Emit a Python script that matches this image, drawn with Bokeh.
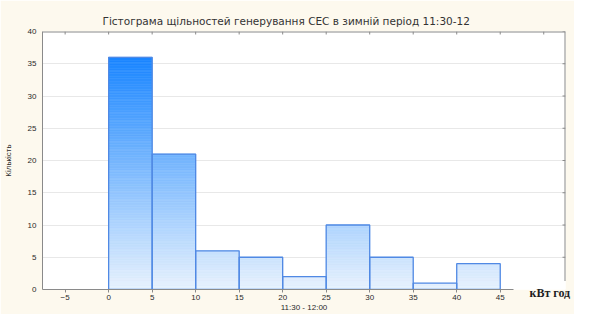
from bokeh.plotting import figure
from bokeh.models import FixedTicker, Range1d, LinearAxis
from bokeh.embed import file_html
from bokeh.resources import INLINE

# data
bin_left = [0, 5, 10, 15, 20, 25, 30, 35, 40]
bin_right = [5, 10, 15, 20, 25, 30, 35, 40, 45]
counts = [36, 21, 6, 5, 2, 10, 5, 1, 4]
x_ticks = [-5, 0, 5, 10, 15, 20, 25, 30, 35, 40, 45]
top_ticks = [-5, 0, 5, 10, 15, 20, 25, 30, 35, 40, 45, 50]
y_ticks = [0, 5, 10, 15, 20, 25, 30, 35, 40]
title_text = "Гістограма щільностей генерування СЕС в зимній період 11:30-12"
x_label = "11:30 - 12:00"
y_label = "Кількість"
unit_label = "кВт год"

X0, X1 = -7.6, 52.5
Y0, Y1 = 0, 40
AXIS_END = 46.5      # bottom axis line stops under the unit label
FRAME_CUT = 1.3      # right frame line stops above the unit label
UNIT_X = 50.7        # where the unit label is centred

BEIGE = "#FDF9EE"
FONT = "Liberation Sans"
TXT = "#2a2a2a"
FRAME = "#8a8a8a"

W, H = 574, 314
ML, MR, MT, MB = 42, 9, 31, 24
px_x = (W - ML - MR) / (X1 - X0)
px_y = (H - MT - MB) / (Y1 - Y0)

p = figure(width=W, height=H, output_backend="svg", toolbar_location=None,
           x_range=Range1d(X0, X1), y_range=Range1d(Y0, Y1),
           min_border_left=ML, min_border_right=MR, min_border_top=MT, min_border_bottom=MB)
p.border_fill_color = BEIGE
p.background_fill_color = "white"
p.outline_line_color = None

p.title.text = title_text
p.title.align = "left"
p.title.text_font = "DejaVu Sans"
p.title.text_font_size = "10.5px"
p.title.text_font_style = "normal"
p.title.text_color = "#333333"
p.title.standoff = 9
p.title.offset = 60

p.xgrid.grid_line_color = None
p.ygrid.grid_line_color = "#e8e8e8"
p.ygrid.ticker = FixedTicker(ticks=y_ticks)

# gradient slices
top_col = (26, 134, 255)
bot_col = (232, 242, 253)
ymax = max(counts)
step = 0.25
L, R, B, T, C = [], [], [], [], []
for l, r, h in zip(bin_left, bin_right, counts):
    y = 0.0
    while y < h - 1e-9:
        yt = min(h, y + step)
        t = ((y + yt) / 2) / ymax
        col = tuple(int(round(bc + (tc - bc) * t)) for tc, bc in zip(top_col, bot_col))
        L.append(l); R.append(r); B.append(y); T.append(yt)
        C.append("#%02x%02x%02x" % col)
        y = yt
p.quad(left=L, right=R, bottom=B, top=T, fill_color=C, line_color=C, line_width=0.6)
p.quad(left=bin_left, right=bin_right, bottom=0, top=counts, fill_alpha=0,
       line_color="#5089e4", line_width=1.3)

# top and right frame lines with inward ticks
p.segment(x0=[X0], y0=[Y1], x1=[X1], y1=[Y1], line_color=FRAME, line_width=2)
p.segment(x0=[X1], y0=[FRAME_CUT], x1=[X1], y1=[Y1], line_color=FRAME, line_width=2)
p.segment(x0=top_ticks, y0=[Y1] * len(top_ticks), x1=top_ticks,
          y1=[Y1 - 3 / px_y] * len(top_ticks), line_color=FRAME, line_width=1)
rt = [t for t in y_ticks if t > FRAME_CUT]
p.segment(x0=[X1] * len(rt), y0=rt, x1=[X1 - 3 / px_x] * len(rt), y1=rt,
          line_color=FRAME, line_width=1)

# axes
p.xaxis.ticker = FixedTicker(ticks=x_ticks)
p.yaxis.ticker = FixedTicker(ticks=y_ticks)
p.xaxis.bounds = (X0, AXIS_END)
for ax in (p.xaxis[0], p.yaxis[0]):
    ax.major_label_text_font = FONT
    ax.major_label_text_font_size = "8px"
    ax.major_label_text_color = TXT
    ax.axis_line_color = FRAME
    ax.major_tick_line_color = FRAME
    ax.minor_tick_line_color = None
    ax.major_tick_in = 0
    ax.axis_label_text_font = FONT
    ax.axis_label_text_font_size = "8px"
    ax.axis_label_text_font_style = "normal"
    ax.axis_label_text_color = TXT
p.xaxis.major_tick_out = 3
p.yaxis.major_tick_out = 0
p.xaxis.major_label_standoff = 2
p.yaxis.major_label_standoff = 6
p.xaxis.axis_label = x_label
p.xaxis.axis_label_standoff = 0
p.yaxis.axis_label = y_label
p.yaxis.axis_label_standoff = 12

# unit label (bold serif) right of the last bin, pulled up to the axis level
unit_ax = LinearAxis(ticker=FixedTicker(ticks=[UNIT_X]),
                     major_label_overrides={UNIT_X: unit_label},
                     axis_line_color=None, major_tick_line_color=None,
                     minor_tick_line_color=None, major_tick_in=0, major_tick_out=0,
                     major_label_standoff=-29,
                     major_label_text_font="Liberation Serif",
                     major_label_text_font_style="bold",
                     major_label_text_font_size="12px",
                     major_label_text_color="#1e1e1e")
p.add_layout(unit_ax, "below")

open("out.html", "w").write(file_html(p, INLINE))
